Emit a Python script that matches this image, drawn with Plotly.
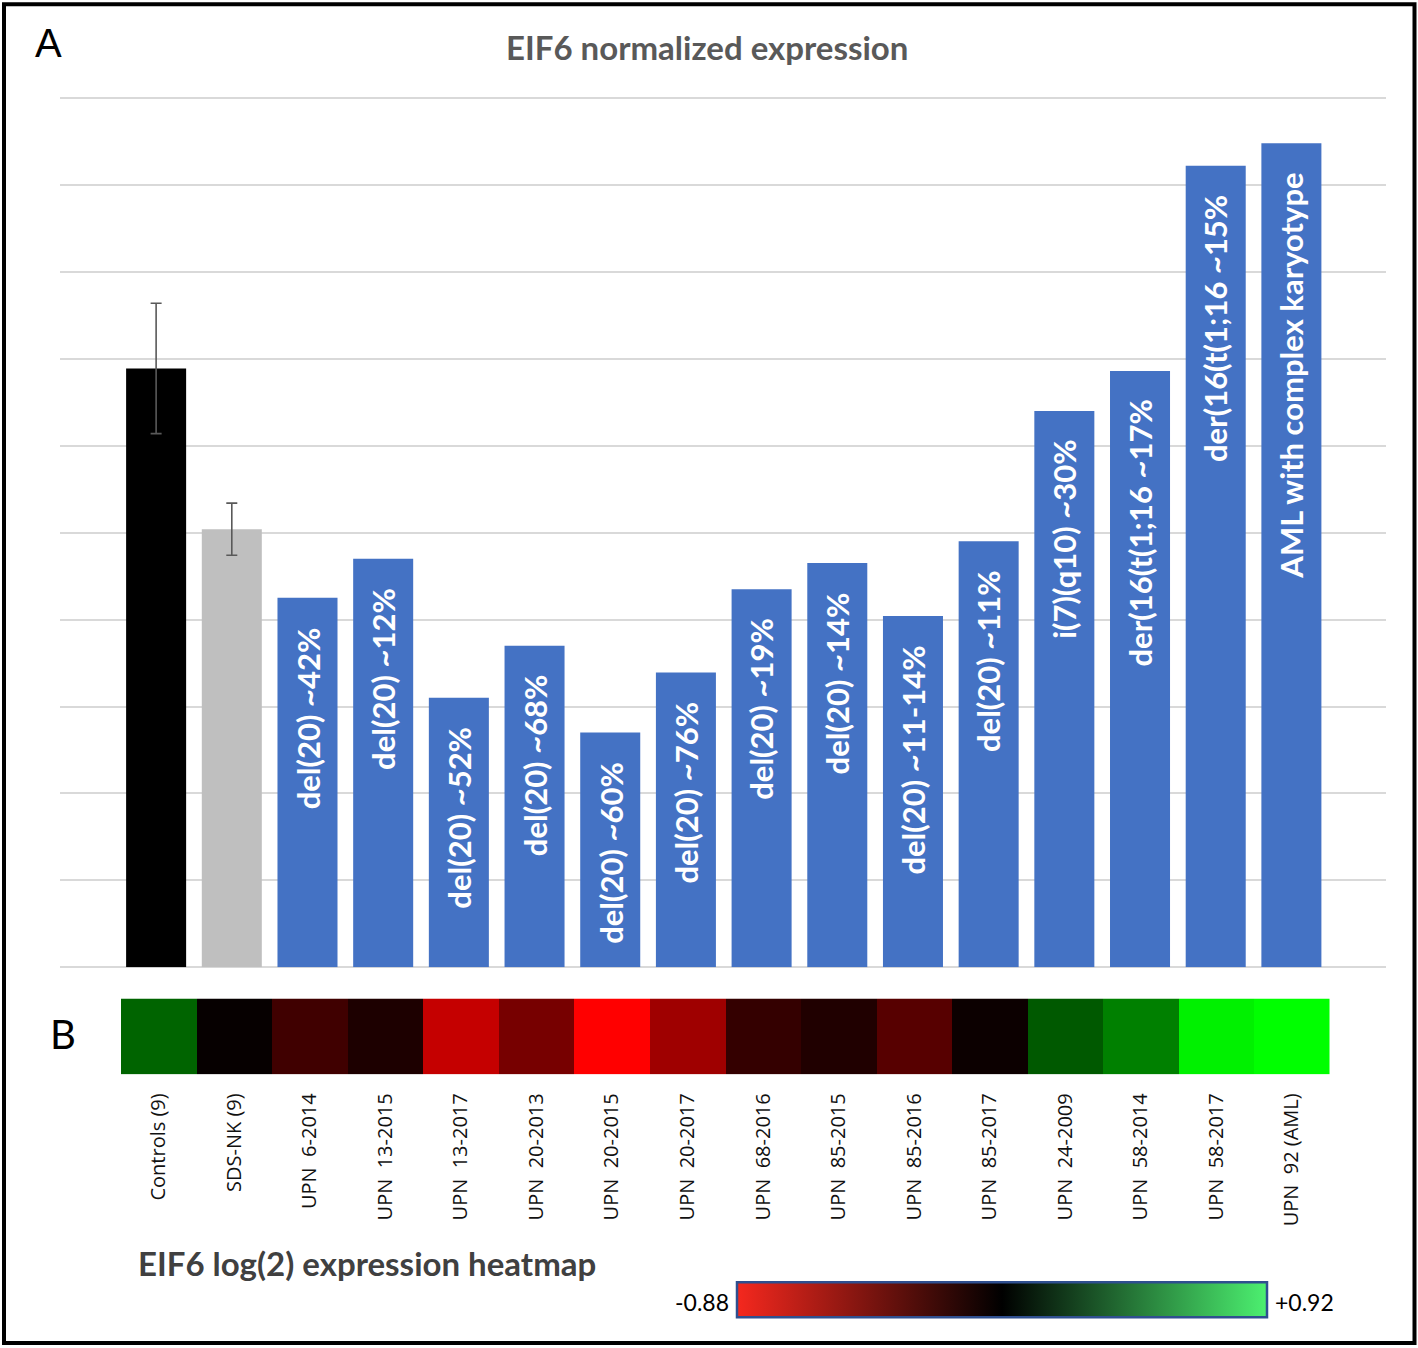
import plotly.graph_objects as go

# ---------------- data ----------------
categories = ["Controls (9)", "SDS-NK (9)", "UPN\u00a0 6-2014", "UPN\u00a0 13-2015",
              "UPN\u00a0 13-2017", "UPN\u00a0 20-2013", "UPN\u00a0 20-2015", "UPN\u00a0 20-2017",
              "UPN\u00a0 68-2016", "UPN\u00a0 85-2015", "UPN\u00a0 85-2016", "UPN\u00a0 85-2017",
              "UPN\u00a0 24-2009", "UPN\u00a0 58-2014", "UPN\u00a0 58-2017", "UPN\u00a0 92 (AML)"]

group_values = [0.689, 0.504]
group_errors = [0.075, 0.030]
group_colors = ["#000000", "#bfbfbf"]

patient_values = [0.425, 0.470, 0.310, 0.370, 0.270, 0.339, 0.435, 0.465,
                  0.404, 0.490, 0.640, 0.686, 0.922, 0.948]
patient_labels = ["del(20) ~42%", "del(20) ~12%", "del(20) ~52%", "del(20) ~68%",
                  "del(20) ~60%", "del(20) ~76%", "del(20) ~19%", "del(20) ~14%",
                  "del(20) ~11-14%", "del(20) ~11%", "i(7)(q10) ~30%",
                  "der(16(t(1;16 ~17%", "der(16(t(1;16 ~15%", "AML with complex karyotype"]

heat_values = [0.36, -0.02, -0.22, -0.10, -0.68, -0.41, -0.88, -0.55,
               -0.18, -0.11, -0.30, -0.04, 0.32, 0.46, 0.87, 0.92]
scale_min, scale_max = -0.88, 0.92

W, H = 1418, 1348


def px_x(p):
    return p / W


def px_y(p):
    return 1 - p / H


BLUE = "#4472c4"
mid = -scale_min / (scale_max - scale_min)

fig = go.Figure()

fig.add_trace(go.Bar(
    x=categories[:2], y=group_values,
    marker=dict(color=group_colors, line=dict(width=0)),
    error_y=dict(type="data", array=group_errors, color="#595959", thickness=1.6, width=5.5),
    showlegend=False, hoverinfo="x+y",
))
fig.add_trace(go.Bar(
    x=categories[2:], y=patient_values,
    marker=dict(color=BLUE, line=dict(width=0)),
    showlegend=False, hoverinfo="x+y",
))

fig.add_trace(go.Heatmap(
    x=categories, y=["EIF6"], z=[heat_values],
    zmin=scale_min, zmax=scale_max,
    colorscale=[[0, "#ff0000"], [mid, "#000000"], [1, "#00ff00"]],
    showscale=False, xaxis="x2", yaxis="y2", xgap=0, ygap=0,
))

# legend colour bar (display only)
fig.add_trace(go.Scatter(
    x=[None], y=[None], mode="markers",
    marker=dict(color=[0], coloraxis="coloraxis2"),
    xaxis="x2", yaxis="y2", showlegend=False, hoverinfo="skip",
))

annotations = []
for cat, val, lab in zip(categories[2:], patient_values, patient_labels):
    annotations.append(dict(
        x=cat, y=val, xref="x", yref="y", text=lab, showarrow=False,
        textangle=-90, xanchor="center", yanchor="top", yshift=-27,
        font=dict(family="Lato", size=31, color="white", weight="bold"),
    ))

annotations += [
    dict(x=px_x(707), y=px_y(47), xref="paper", yref="paper", text="<b>EIF6 normalized expression</b>",
         showarrow=False, xanchor="center", yanchor="middle",
         font=dict(family="Lato", size=33, color="#595959")),
    dict(x=px_x(48), y=px_y(43), xref="paper", yref="paper", text="A",
         showarrow=False, xanchor="center", yanchor="middle",
         font=dict(family="Liberation Sans", size=40, color="black")),
    dict(x=px_x(63), y=px_y(1034), xref="paper", yref="paper", text="B",
         showarrow=False, xanchor="center", yanchor="middle",
         font=dict(family="Lato", size=40, color="black")),
    dict(x=px_x(136), y=px_y(1263), xref="paper", yref="paper",
         text="<b>EIF6 log(2) expression heatmap</b>",
         showarrow=False, xanchor="left", yanchor="middle",
         font=dict(family="Lato", size=33, color="#404040")),
    dict(x=px_x(731), y=px_y(1302), xref="paper", yref="paper", text=f"{scale_min:.2f}",
         showarrow=False, xanchor="right", yanchor="middle",
         font=dict(family="Lato", size=23, color="black")),
    dict(x=px_x(1273), y=px_y(1302), xref="paper", yref="paper", text=f"+{scale_max:.2f}",
         showarrow=False, xanchor="left", yanchor="middle",
         font=dict(family="Lato", size=23, color="black")),
]

fig.update_layout(
    width=W, height=H,
    margin=dict(l=0, r=0, t=0, b=0),
    paper_bgcolor="white", plot_bgcolor="white",
    barmode="overlay", bargap=0.207,
    xaxis=dict(domain=[px_x(60), px_x(1386)], range=[-1.27, 16.25],
               showticklabels=False, ticks="", showgrid=False, zeroline=False,
               showline=False, fixedrange=True),
    yaxis=dict(domain=[px_y(967.3), px_y(97)], range=[0, 1.0012], dtick=0.1, tick0=0,
               showticklabels=False, ticks="", showgrid=True, gridcolor="#d9d9d9",
               gridwidth=1.6, zeroline=True, zerolinecolor="#d9d9d9", zerolinewidth=1.6,
               showline=False),
    xaxis2=dict(domain=[px_x(121), px_x(1329.5)], range=[-0.5, 15.5], anchor="y2",
                tickangle=-90, ticks="", showgrid=False, zeroline=False, showline=False,
                ticklabelstandoff=14,
                tickfont=dict(family="Open Sans", size=20, color="#111111")),
    yaxis2=dict(domain=[px_y(1074.3), px_y(998.5)], anchor="x2", showticklabels=False,
                ticks="", showgrid=False, zeroline=False),
    coloraxis2=dict(
        cmin=scale_min, cmax=scale_max,
        colorscale=[[0, "#f5281e"], [0.5, "#000000"], [1, "#4cf070"]],
        colorbar=dict(orientation="h", x=px_x(1002), xanchor="center",
                      y=px_y(1300.5), yanchor="middle",
                      len=530 / W, lenmode="fraction", thickness=35, thicknessmode="pixels",
                      outlinewidth=2.5, outlinecolor="#2f4f8f",
                      showticklabels=False, ticks="", xpad=0, ypad=0),
    ),
    annotations=annotations,
    shapes=[dict(type="rect", xref="paper", yref="paper",
                 x0=px_x(4), x1=px_x(1414.5), y0=px_y(1343), y1=px_y(4.3),
                 line=dict(color="black", width=4), fillcolor="rgba(0,0,0,0)")],
)

fig.write_html("out.html", config={"displayModeBar": False},
               post_script="document.body.style.margin='0px';document.body.style.overflow='hidden';")
